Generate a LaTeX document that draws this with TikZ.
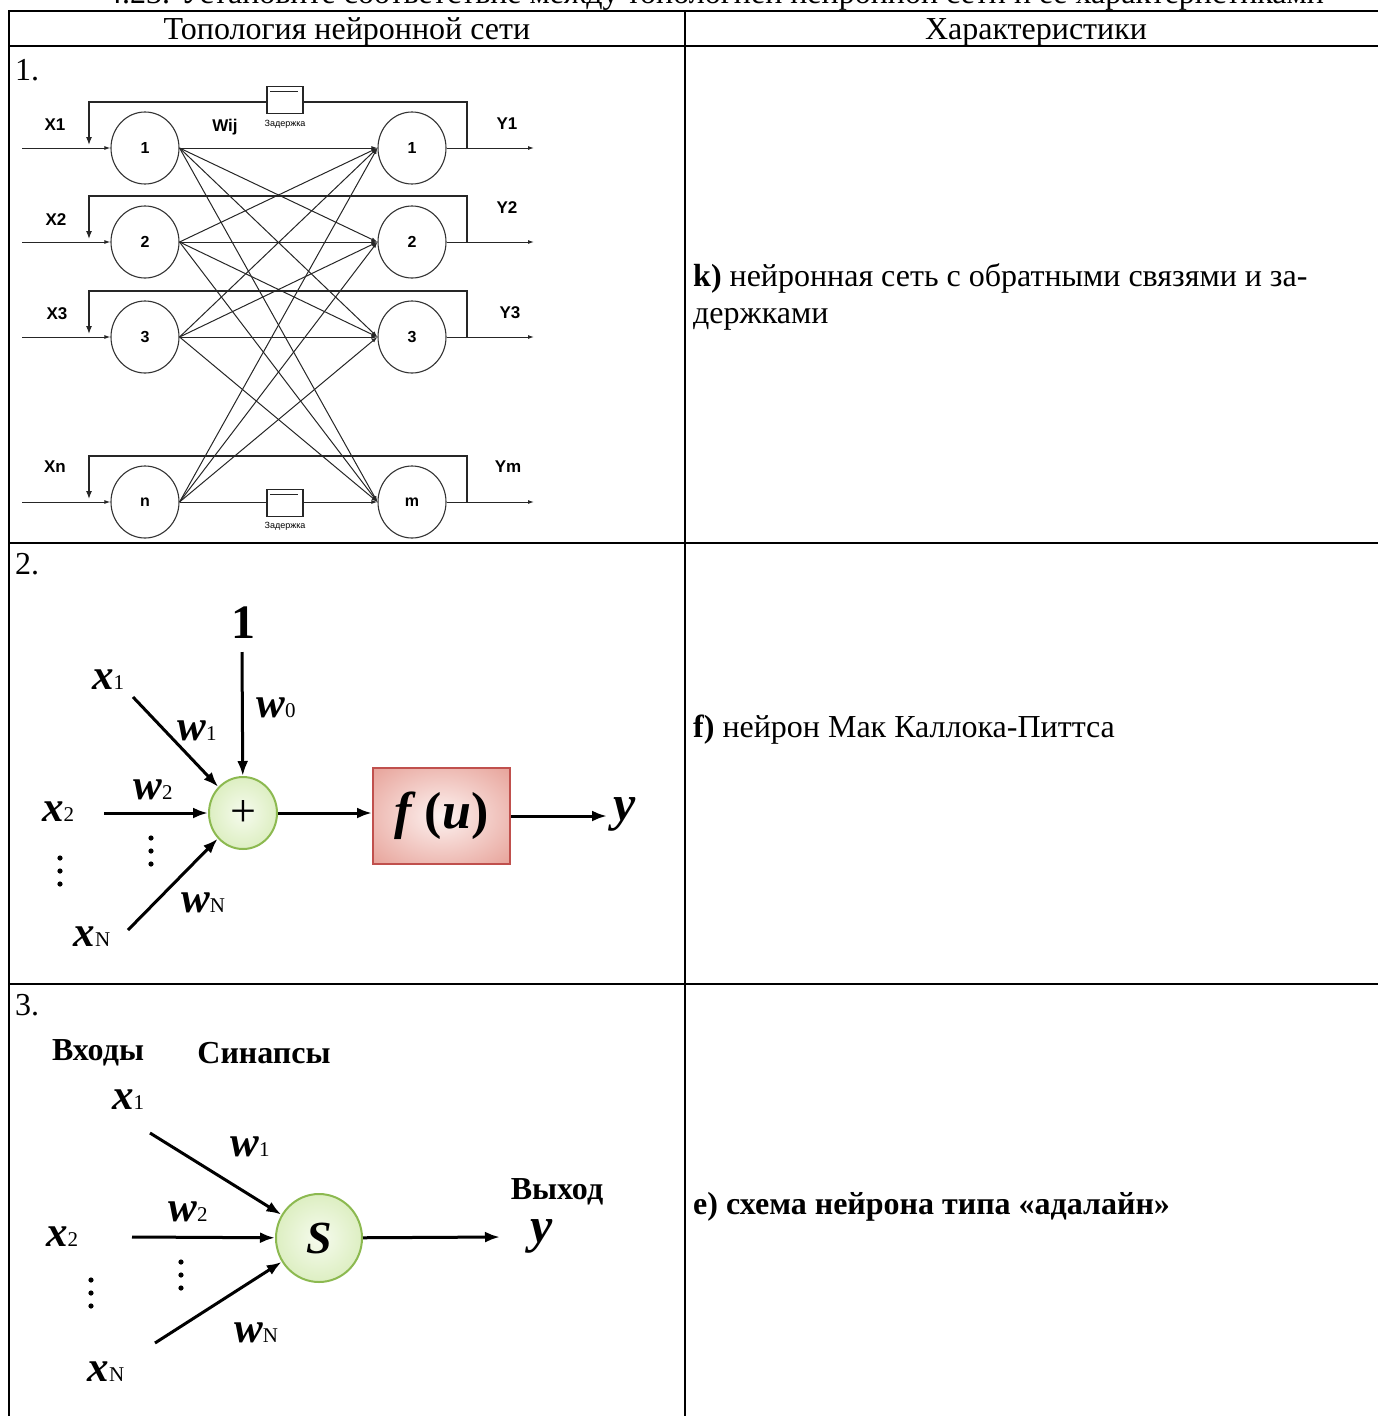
\documentclass[tikz,border=0pt]{standalone}
\usepackage{fontspec}
\setmainfont{Liberation Serif}
\newfontfamily\arialf{Liberation Sans}
\usetikzlibrary{arrows.meta,shapes.geometric}
\definecolor{gin}{RGB}{246,251,238}
\definecolor{gout}{RGB}{196,226,150}
\definecolor{gbord}{RGB}{140,185,80}
\definecolor{rin}{RGB}{253,242,240}
\definecolor{rout}{RGB}{222,130,118}
\definecolor{rbord}{RGB}{192,80,77}
\pgfdeclareradialshading{greensh}{\pgfpoint{0bp}{0bp}}{color(0bp)=(gin); color(50bp)=(gout); color(75bp)=(gout)}
\pgfdeclareradialshading{redsh}{\pgfpoint{0bp}{0bp}}{color(0bp)=(rin); color(50bp)=(rout); color(75bp)=(rout)}
\newcommand\bxs[2]{{\bfseries\itshape #1}{\fontsize{21}{21}\selectfont #2}}
\begin{document}
\begin{tikzpicture}[x=1pt,y=-1pt,
  tbl/.style={line width=2.5},
  txt/.style={font=\fontsize{32}{36}\selectfont},
  neur/.style={ellipse, draw=black!80, line width=1.1, minimum width=68, minimum height=72, inner sep=0, font=\arialf\bfseries\fontsize{16}{16}\selectfont},
  wire/.style={line width=1, draw=black!85, -{Latex[length=6,width=4]}},
  fbk/.style={line width=1.3, draw=black!85, -{Latex[length=8,width=6]}},
  delay/.style={draw=black!85, line width=1.1, fill=white, minimum width=36, minimum height=27, inner sep=0},
  slab/.style={font=\arialf\bfseries\fontsize{17}{17}\selectfont},
  tinylab/.style={font=\arialf\fontsize{9}{9}\selectfont},
  barr/.style={line width=3, -{Latex[length=15,width=11]}},
  bigi/.style={font=\fontsize{43}{43}\selectfont, inner sep=0},
  sumnode/.style={ellipse, draw=gbord, line width=2, shading=greensh, inner sep=0},
]
\useasboundingbox (0,0) rectangle (1378,1416);
% title (cropped by the page edge, as in the reference)
\node[txt, anchor=base] (title) at (715,4) {4.23. Установите соответствие между топологией нейронной сети и ее характеристиками};
% table
\draw[tbl] (8,11) -- (1378,11);
\draw[tbl] (8,46) -- (1378,46);
\draw[tbl] (8,543) -- (1378,543);
\draw[tbl] (8,984) -- (1378,984);
\draw[tbl] (9,10) -- (9,1416);
\draw[tbl] (685,10) -- (685,1416);
\node[txt, anchor=base] (h1) at (347,39) {Топология нейронной сети};
\node[txt, anchor=base] (h2) at (1036,39) {Характеристики};
\node[txt, anchor=base west, inner sep=0] (n1) at (15,80) {1.};
\node[txt, anchor=base west, inner sep=0] (n2) at (15,574) {2.};
\node[txt, anchor=base west, inner sep=0] (n3) at (15,1015) {3.};
% right column
\node[txt, anchor=base west, inner sep=0] (k1) at (693,286) {\textbf{k)} нейронная сеть с обратными связями и за-};
\node[txt, anchor=base west, inner sep=0] (k2) at (693,323) {держками};
\node[txt, anchor=base west, inner sep=0] (f1) at (693,737) {\textbf{f)} нейрон Мак Каллока-Питтса};
\node[txt, anchor=base west, inner sep=0] (e1) at (693,1214) {\textbf{e) схема нейрона типа «адалайн»}};

% ===== diagram 1 =====
\foreach \n/\y/\a/\b in {1/148/1/1, 2/242/2/2, 3/337/3/3, 4/502/n/m}{
  \node[neur] (l\n) at (145,\y) {\a};
  \node[neur] (r\n) at (412,\y) {\b};
  \coordinate (in\n) at (22,\y);
  \coordinate (out\n) at (534,\y);
  \coordinate (fa\n) at (467,\y);
  \coordinate (fb\n) at (89,\y-46);
  \coordinate (fc\n) at (89,\y-3);
}
\foreach \i in {1,2,3,4}{
  \foreach \j in {1,2,3,4}{
    \draw[wire] (l\i.east) -- (r\j.west);
  }
  \draw[wire] (in\i) -- (l\i.west);
  \draw[wire] (r\i.east) -- (out\i);
  \draw[fbk] (fa\i) |- (fb\i) -- (fc\i);
}
\node[delay] (d1) at (285,100) {};
\draw[line width=1.6, black!85] (d1.north west) ++(4,5.5) -- ++(28,0);
\node[delay] (d2) at (285,503) {};
\draw[line width=1.6, black!85] (d2.north west) ++(4,5.5) -- ++(28,0);
\node[tinylab] (dl1) at (285,124) {Задержка};
\node[tinylab] (dl2) at (285,526) {Задержка};
\node[slab] (wij) at (225,127) {Wij};
\node[slab] (x1l) at (55,125) {X1};
\node[slab] (x2l) at (56,220) {X2};
\node[slab] (x3l) at (57,314) {X3};
\node[slab] (xnl) at (55,467) {Xn};
\node[slab] (y1l) at (507,124) {Y1};
\node[slab] (y2l) at (507,208) {Y2};
\node[slab] (y3l) at (510,313) {Y3};
\node[slab] (yml) at (508,467) {Ym};

% ===== diagram 2 =====
\node[font=\bfseries\fontsize{48}{48}\selectfont, inner sep=0] (one) at (243,623) {1};
\node[sumnode, minimum width=68, minimum height=72, font=\fontsize{46}{46}\selectfont] (sum) at (243,813) {+};
\node[draw=rbord, line width=2, shading=redsh, minimum width=137, minimum height=96, inner sep=0] (fbox) at (441.5,816)
  {\fontsize{52}{52}\selectfont\textbf{\textit{f}\,(\textit{u})}};
\coordinate (s0) at (242,652);
\coordinate (s1) at (133,697);
\coordinate (s2) at (104,813);
\coordinate (sN) at (128,930);
\coordinate (yo) at (607,816);
\draw[barr] (s0) -- (sum);
\draw[barr] (s1) -- (sum);
\draw[barr] (s2) -- (sum);
\draw[barr] (sN) -- (sum);
\draw[barr] (sum.east) -- (sum.east -| fbox.west);
\draw[barr] (fbox.east |- yo) -- (yo);
\node[bigi] (x1b) at (108,680) {\bxs{x}{1}};
\node[bigi] (w0b) at (276,708) {\bxs{w}{0}};
\node[bigi] (w1b) at (197,731) {\bxs{w}{1}};
\node[bigi] (x2b) at (58,812) {\bxs{x}{2}};
\node[bigi] (w2b) at (153,790) {\bxs{w}{2}};
\node[bigi] (xNb) at (92,937) {\bxs{x}{N}};
\node[bigi] (wNb) at (203,903) {\bxs{w}{N}};
\node[font=\fontsize{50}{50}\selectfont\bfseries\itshape, inner sep=0] (yb) at (625,814) {y};
\foreach \y in {838,851,864} \fill (151,\y) circle (2.6);
\foreach \y in {858,871,884} \fill (60,\y) circle (2.6);

% ===== diagram 3 =====
\node[font=\bfseries\fontsize{32}{32}\selectfont] (vx) at (98,1053) {Входы};
\node[font=\bfseries\fontsize{32}{32}\selectfont] (sy) at (264,1053) {Синапсы};
\node[font=\bfseries\fontsize{32}{32}\selectfont] (vy) at (557,1192) {Выход};
\node[sumnode, minimum width=86, minimum height=88, font=\fontsize{46}{46}\selectfont\bfseries\itshape] (S) at (319,1238) {S};
\coordinate (t1) at (150,1133);
\coordinate (t2) at (132,1237);
\coordinate (tN) at (155,1343);
\coordinate (ty) at (500,1237);
\draw[barr] (t1) -- (S);
\draw[barr] (t2) -- (S);
\draw[barr] (tN) -- (S);
\draw[barr] (S) -- (ty);
\node[bigi] (x1c) at (128,1100) {\bxs{x}{1}};
\node[bigi] (w1c) at (250,1147) {\bxs{w}{1}};
\node[bigi] (x2c) at (62,1237) {\bxs{x}{2}};
\node[bigi] (w2c) at (188,1212) {\bxs{w}{2}};
\node[bigi] (xNc) at (106,1372) {\bxs{x}{N}};
\node[bigi] (wNc) at (256,1333) {\bxs{w}{N}};
\node[font=\fontsize{50}{50}\selectfont\bfseries\itshape, inner sep=0] (yc) at (542,1236) {y};
\foreach \y in {1262,1275,1288} \fill (181,\y) circle (2.6);
\foreach \y in {1280,1293,1306} \fill (91,\y) circle (2.6);
\end{tikzpicture}
\end{document}
